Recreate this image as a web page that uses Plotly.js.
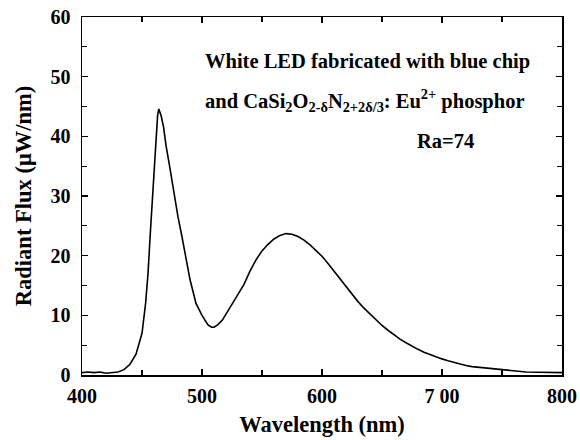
<!DOCTYPE html>
<html>
<head>
<meta charset="utf-8">
<script src="https://cdn.plot.ly/plotly-3.0.1.min.js"></script>
<style>html,body{margin:0;padding:0;background:#fff;}#chart{width:580px;height:440px;}</style>
</head>
<body>
<div id="chart"></div>
<script>
const wavelength = [400,405,410,415,420,425,430,435,440,445,450,453,455,457,459,461,463,464,465,466,468,470,473,476,478,480,483,486,490,495,500,505,508,510,513,517,520,525,530,535,540,545,550,555,560,565,570,575,580,585,590,595,600,605,610,615,620,625,630,635,640,645,650,655,660,665,670,675,680,685,690,695,700,705,710,715,720,725,730,735,740,745,750,760,770,780,790,800];
const radiantFlux = [0.4,0.5,0.4,0.5,0.3,0.4,0.5,0.9,1.8,3.5,7.0,12,17,24,31,38,43.5,44.6,44.0,43.4,41.5,38.5,35,31,29,26.5,23.5,20.5,16,12,10,8.4,8.0,8.0,8.4,9.2,10.2,11.8,13.3,15.2,17.4,19.3,20.8,21.9,22.8,23.4,23.7,23.6,23.2,22.6,21.8,20.9,19.9,18.7,17.4,16.0,14.7,13.4,12.3,11.2,10.2,9.2,8.3,7.5,6.7,6.0,5.4,4.8,4.3,3.8,3.4,3.0,2.7,2.4,2.1,1.9,1.6,1.4,1.3,1.1,1.0,0.9,0.8,0.6,0.5,0.45,0.4,0.4];
const xTickVals = [400,500,600,700,800];
const xTickText = ['400','500','600','7 00','800'];
const yTickVals = [0,10,20,30,40,50,60];
const annotationLines = [
  'White LED fabricated with blue chip',
  'and CaSi<sub>2</sub>O<sub>2-δ</sub>N<sub>2+2δ/3</sub>: Eu<sup>2+</sup> phosphor',
  'Ra=74'
];

const font = {family: 'Liberation Serif, Times New Roman, serif', color: '#000'};
const tickFont = Object.assign({}, font, {size: 20, weight: 'bold'});
const annFont = Object.assign({}, font, {size: 20.5, weight: 'bold'});

const trace = {
  x: wavelength, y: radiantFlux, type: 'scatter', mode: 'lines',
  line: {color: '#000', width: 1.6}, hoverinfo: 'skip'
};

const axisCommon = {
  showgrid: false, zeroline: false, showline: true, linecolor: '#000', linewidth: 1.5,
  mirror: 'ticks', ticks: 'inside', ticklen: 6, tickwidth: 1.2, tickcolor: '#000',
  tickfont: tickFont
};

const layout = {
  width: 580, height: 440,
  margin: {l: 82, r: 18, t: 17, b: 65},
  paper_bgcolor: '#fff', plot_bgcolor: '#fff',
  showlegend: false,
  font: font,
  xaxis: Object.assign({}, axisCommon, {
    range: [400, 800], tickmode: 'array', tickvals: xTickVals, ticktext: xTickText,
    ticklabelstandoff: 2,
    minor: {dtick: 50, ticks: 'inside', ticklen: 5, tickcolor: '#000', tickwidth: 1.2},
    title: {text: 'Wavelength (nm)', font: Object.assign({}, font, {size: 22.5, weight: 'bold'}), standoff: 10}
  }),
  yaxis: Object.assign({}, axisCommon, {
    range: [0, 60], tickmode: 'array', tickvals: yTickVals, ticklabelstandoff: 6,
    minor: {dtick: 5, ticks: 'inside', ticklen: 5, tickcolor: '#000', tickwidth: 1.2},
    title: {text: 'Radiant Flux (μW/nm)', font: Object.assign({}, font, {size: 22.5, weight: 'bold'}), standoff: 12}
  }),
  annotations: [
    {text: annotationLines[0], xref: 'paper', yref: 'paper', x: 0.252, y: 0.877, xanchor: 'left', yanchor: 'middle', showarrow: false, font: annFont},
    {text: annotationLines[1], xref: 'paper', yref: 'paper', x: 0.252, y: 0.768, xanchor: 'left', yanchor: 'middle', showarrow: false, font: annFont},
    {text: annotationLines[2], xref: 'paper', yref: 'paper', x: 0.694, y: 0.654, xanchor: 'left', yanchor: 'middle', showarrow: false, font: annFont}
  ]
};

Plotly.newPlot('chart', [trace], layout, {displayModeBar: false, staticPlot: true});
</script>
</body>
</html>
